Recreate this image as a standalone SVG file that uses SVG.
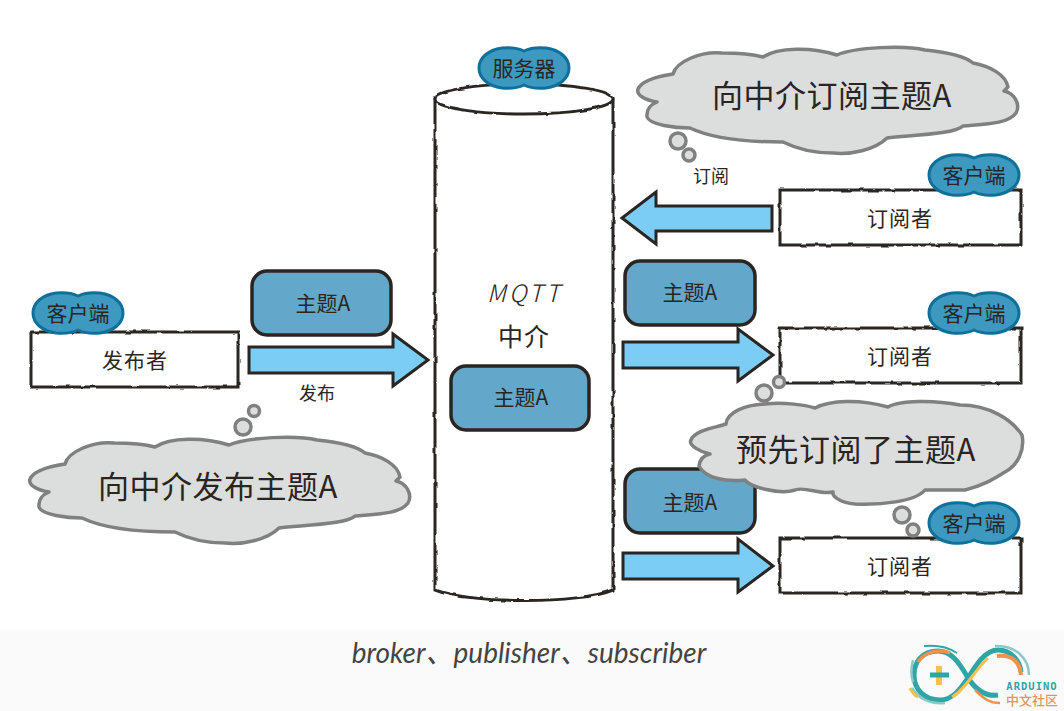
<svg xmlns="http://www.w3.org/2000/svg" width="1064" height="711" viewBox="0 0 1064 711">
<style>
text{font-family:"Noto Sans CJK SC","Noto Sans",sans-serif;fill:#2b2522;text-anchor:middle;font-weight:400}
.t20{font-size:21px}.t30{font-size:31px;letter-spacing:.5px}.t18{font-size:18px}
.box{fill:#fff;stroke:#2b2522;stroke-width:3;filter:url(#wob)}
.topic{fill:#63a8cb;stroke:#2b2522;stroke-width:3.5}
.arrow{fill:#7bcdf5;stroke:#2b2522;stroke-width:3}
.cloud{fill:#dcdddd;stroke:#808080;stroke-width:3.5;stroke-linejoin:round}
.bub{fill:#dcdddd;stroke:#808080;stroke-width:3.5}
.tag{fill:#3d99c0;stroke:#0f7199;stroke-width:3}
</style>
<defs>
<filter id="wob" x="-5%" y="-5%" width="110%" height="110%"><feTurbulence type="fractalNoise" baseFrequency="0.09" numOctaves="2" seed="4"/><feDisplacementMap in="SourceGraphic" scale="3" xChannelSelector="R" yChannelSelector="G"/></filter>
<path id="cl" d="M673,74 C676,62 700,51 722,53 C736,53 752,54 763,57 C778,47 812,47 837,55 C855,47 905,45 925,50 C945,52 965,56 973,63 C990,66 1006,75 1008,87 L1004,91 C1014,93 1021,104 1016,113 C1008,124 985,124 963,126 C955,134 915,135 887,138 C875,150 850,155 833,153 C810,153 795,148 783,142 C755,142 715,140 690,128 C675,128 650,125 647,117 C646,108 652,104 657,102 C645,100 636,95 638,89 C642,80 660,76 673,74 Z"/>
<g id="tagshape"><path d="M-22,-20 C-10,-21 -4,-19 0,-17 C4,-19 12,-21 22,-20 C36,-18 45,-10 45,0 C45,10 36,18 22,20 C12,21 4,19 0,17 C-4,19 -12,21 -22,20 C-36,18 -45,10 -45,0 C-45,-10 -36,-18 -22,-20 Z"/></g>
</defs>
<rect width="1064" height="711" fill="#fff"/>
<rect y="630" width="1064" height="81" fill="#fafafa"/>

<g id="connectors">
<path class="arrow" d="M249,347 H393 V334 L428,360 L393,386 V373 H249 Z"/>
<path class="arrow" d="M772,206 H656 V192 L622,218 L656,244 V231 H772 Z"/>
<path class="arrow" d="M623,342 H738 V329 L773,355 L738,381 V368 H623 Z"/>
<path class="arrow" d="M623,553 H738 V539 L773,566 L738,592 V579 H623 Z"/>
</g>

<g id="broker">
<path class="box" d="M435,99 V590 C470,604 580,604 613,590 V99 Z"/>
<ellipse cx="524" cy="99" rx="89" ry="15" fill="#fff" stroke="#2b2522" stroke-width="3" filter="url(#wob)"/>
<text x="525" y="302" style="font-size:24px;letter-spacing:3px;font-style:italic;font-weight:300">MQTT</text>
<text x="524" y="346" style="font-size:25px;letter-spacing:1px">中介</text>
</g>
<g id="server"><use href="#tagshape" class="tag" transform="translate(524,68)"/><text x="524" y="76" class="t20">服务器</text></g>

<g id="publisher">
<rect class="box" x="31" y="332" width="207" height="55"/>
<text x="135" y="368" class="t20" style="letter-spacing:1px">发布者</text>
<use href="#tagshape" class="tag" transform="translate(78,313)"/><text x="78" y="321" class="t20">客户端</text>
</g>
<g id="sub1">
<rect class="box" x="780" y="190" width="241" height="55"/>
<text x="900" y="226" class="t20" style="letter-spacing:1px">订阅者</text>
<use href="#tagshape" class="tag" transform="translate(974,175)"/><text x="974" y="183" class="t20">客户端</text>
</g>
<g id="sub2">
<rect class="box" x="780" y="328" width="241" height="55"/>
<text x="900" y="364" class="t20" style="letter-spacing:1px">订阅者</text>
<use href="#tagshape" class="tag" transform="translate(974,313)"/><text x="974" y="321" class="t20">客户端</text>
</g>
<g id="sub3">
<rect class="box" x="780" y="538" width="241" height="55"/>
<text x="900" y="574" class="t20" style="letter-spacing:1px">订阅者</text>
</g>

<g id="topic1"><rect class="topic" x="252" y="271" width="139" height="64" rx="15"/><text x="323" y="311" class="t20">主题A</text></g>
<g id="topic2"><rect class="topic" x="451" y="366" width="138" height="64" rx="15"/><text x="521" y="405" class="t20">主题A</text></g>
<g id="topic3"><rect class="topic" x="625" y="261" width="130" height="64" rx="15"/><text x="690" y="300" class="t20">主题A</text></g>
<g id="topic4"><rect class="topic" x="625" y="469" width="130" height="64" rx="15"/><text x="690" y="510" class="t20">主题A</text></g>

<text x="317" y="400" class="t18">发布</text>
<text x="711" y="183" class="t18">订阅</text>

<g id="cloud1">
<use href="#cl" class="cloud"/>
<circle class="bub" cx="678" cy="141" r="8"/><circle class="bub" cx="689" cy="155" r="6"/>
<text x="832" y="107" class="t30">向中介订阅主题A</text>
</g>
<g id="cloud2">
<circle class="bub" cx="243" cy="427" r="8"/><circle class="bub" cx="254" cy="411" r="5.5"/>
<use href="#cl" class="cloud" transform="translate(-608,390)"/>
<text x="218" y="498" class="t30">向中介发布主题A</text>
</g>
<g id="cloud3">
<path class="cloud" d="M726,424 C727,412 745,405 765,404 C785,402 805,405 815,408 C830,400 860,399 888,407 C900,400 935,400 960,405 C990,405 1012,420 1022,435 C1025,450 1018,465 1005,472 C995,478 985,485 965,490 C950,490 935,490 925,490 C915,502 880,505 855,504 C840,503 832,496 833,492 C820,495 805,486 795,490 C780,495 750,487 745,480 C725,482 705,478 699,466 C700,458 705,455 710,454 C700,452 688,445 691,440 C695,430 715,428 726,424 Z"/>
<circle class="bub" cx="764" cy="393" r="8"/><circle class="bub" cx="779" cy="382" r="5.5"/>
<circle class="bub" cx="902" cy="515" r="8"/><circle class="bub" cx="913" cy="530" r="6"/>
<text x="856" y="461" class="t30">预先订阅了主题A</text>
</g>
<g id="tag3"><use href="#tagshape" class="tag" transform="translate(974,523)"/><text x="974" y="531" class="t20">客户端</text></g>

<text x="529" y="663" style="font-family:Lato,'Noto Sans CJK SC',sans-serif;font-size:28px;font-style:italic;fill:#444;font-weight:400">broker、publisher、subscriber</text>

<g id="logo" fill="none" stroke-linecap="butt">
<path d="M968,678 C958,660 950,651 938,651 C922,651 914,662 914,675 C914,690 925,700 940,700 C952,700 960,690 968,678 C976,665 985,650 998,650 C1012,650 1020,662 1021,672" stroke="#2fa5a5" stroke-width="5"/>
<path d="M968,678 C976,690 985,697 998,695" stroke="#2fa5a5" stroke-width="5"/>
<path d="M918,662 C925,651 940,649 950,653" stroke="#f0914e" stroke-width="3.5"/>
<path d="M924,646 C935,645 948,647 957,653" stroke="#2fa5a5" stroke-width="2"/>
<path d="M912,688 C918,698 930,705 945,703" stroke="#8cc8c8" stroke-width="2.5"/>
<path d="M910,688 C912,692 915,696 918,697" stroke="#f1c24f" stroke-width="3"/>
<path d="M913,660 C911,668 911,676 913,682" stroke="#8cc8c8" stroke-width="2.5"/>
<path d="M997,656 C1012,654 1020,662 1021,675" stroke="#f0914e" stroke-width="4"/>
<path d="M995,646 C1015,645 1029,658 1029,675" stroke="#8cc8c8" stroke-width="2.5"/>
<path d="M952,697 C965,690 975,670 988,658" stroke="#f1c24f" stroke-width="3"/>
<path d="M975,690 C985,700 990,703 1000,703" stroke="#f0914e" stroke-width="2.5"/>
<path d="M930,675 H949" stroke="#2fa5a5" stroke-width="5"/>
<path d="M939,666 V685" stroke="#f1c24f" stroke-width="6"/>
<path d="M936,675 H942" stroke="#2fa5a5" stroke-width="5"/>
</g>
<text x="1032" y="690" style="font-family:'DejaVu Sans Mono',monospace;font-size:10.5px;font-weight:700;fill:#2fa5a5;letter-spacing:1px">ARDUINO</text>
<text x="1032" y="705" style="font-size:13px;fill:#e0955f;font-weight:500">中文社区</text>
</svg>
